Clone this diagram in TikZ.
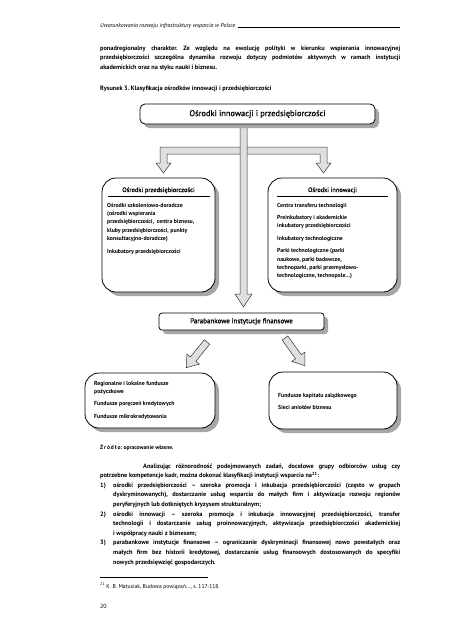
\documentclass[tikz,border=0pt]{standalone}
\usepackage{fontspec}
\setmainfont{PT Sans}
\newfontfamily\semib[FakeBold=0.7]{PT Sans}
\usetikzlibrary{shadows,calc}
\frenchspacing
\newcommand\JL[2][300pt]{\makebox[#1][s]{#2}}
\newcommand\TL[1]{\begin{tabular}[t]{@{}l@{}}#1\end{tabular}}
\begin{document}
\begin{tikzpicture}[x=1pt,y=-1pt,
  body/.style={font=\fontsize{6.3}{9.6}\selectfont\bfseries\frenchspacing, inner sep=0pt, anchor=base west},
  small/.style={font=\fontsize{5.6}{7}\selectfont, inner sep=0pt, anchor=base west},
  boxtxt/.style={font=\fontsize{5.8}{8.4}\selectfont\bfseries, inner sep=0pt, anchor=base west},
  boxtitle/.style={font=\semib\fontsize{6.4}{8}\selectfont, inner sep=0pt, anchor=base},
  shad/.style={drop shadow={shadow xshift=4pt, shadow yshift=-4pt, fill=gray!70, opacity=1}},
  roundbox/.style={draw, line width=0.8pt, fill=white, rounded corners=14pt, shad, minimum width=#1, inner sep=0pt},
  flatbox/.style={draw, line width=0.8pt, fill=white, shad, inner sep=0pt},
  blockarrow/.style={draw=black!80, line width=0.5pt, fill=gray!25, line join=miter}
]
\useasboundingbox[fill=white] (0,0) rectangle (452,640);

% header
\node[small, font=\fontsize{5.8}{7}\selectfont\itshape] (hdr) at (100,27) {Uwarunkowania rozwoju infrastruktury wsparcia w Polsce};
\draw[line width=0.4pt] (hdr.base east) ++(2,0) coordinate (hl) -- (400,27) coordinate (hr);

% opening paragraph
\node[body] (p1) at (100,50) {\TL{\JL{ponadregionalny charakter. Ze względu na ewolucję polityki w kierunku wspierania innowacyjnej}\\
\JL{przedsiębiorczości szczególna dynamika rozwoju dotyczy podmiotów aktywnych w ramach instytucji}\\
akademickich oraz na styku nauki i biznesu.}};

\node[body] (cap) at (100,90) {Rysunek 3. Klasyfikacja ośrodków innowacji i przedsiębiorczości};

% arrows (behind boxes)
\draw[blockarrow] (160,147) -- (327,147) -- (327,163) -- (331,163) -- (323.5,173) -- (316,163) -- (320,163) -- (320,154) -- (167,154) -- (167,163) -- (171,163) -- (163.5,173) -- (156,163) -- (160,163) -- cycle;
\draw[blockarrow] (240,124) -- (247,124) -- (247,294) -- (252,294) -- (243.5,307) -- (235,294) -- (240,294) -- cycle;
\begin{scope}[shift={(207,342)}, rotate=231]
\draw[blockarrow] (0,-3.5) -- (22,-3.5) -- (22,-8) -- (33,0) -- (22,8) -- (22,3.5) -- (0,3.5) -- cycle;
\end{scope}
\begin{scope}[shift={(285,338)}, rotate=-54.5]
\draw[blockarrow] (0,-3.5) -- (23,-3.5) -- (23,-8) -- (34,0) -- (23,8) -- (23,3.5) -- (0,3.5) -- cycle;
\end{scope}

% top box
\node[flatbox, rounded corners=5pt, minimum width=235pt, minimum height=20pt, font=\semib\fontsize{8.4}{10}\selectfont] (top) at (257.5,114) {Ośrodki innowacji i przedsiębiorczości};

% left box
\node[roundbox=113pt, minimum height=114pt] (lb) at (158.5,235) {};
\node[boxtitle] (lbt) at (158.5,192) {Ośrodki przedsiębiorczości};
\draw[line width=0.6pt] (108,196.5) -- (210,196.5);
\node[boxtxt] (lbc) at (107,207) {\TL{Ośrodki szkoleniowo-doradcze\\(ośrodki wspierania\\przedsiębiorczości,\ \ centra biznesu,\\kluby przedsiębiorczości, punkty\\konsultacyjno-doradcze)\\[4pt]Inkubatory przedsiębiorczości}};

% right box
\node[roundbox=129pt, minimum height=114pt] (rb) at (332.5,235) {};
\node[boxtitle] (rbt) at (332.5,192) {Ośrodki innowacji};
\draw[line width=0.6pt] (277,196.5) -- (388,196.5);
\node[boxtxt] (rbc) at (277,207) {\TL{Centra transferu technologii\\[4pt]Preinkubatory i akademickie\\inkubatory przedsiębiorczości\\[4pt]Inkubatory technologiczne\\[4pt]Parki technologiczne (parki\\naukowe, parki badawcze,\\technoparki, parki przemysłowo-\\technologiczne, technopole…)}};

% parabank box
\node[flatbox, rounded corners=3pt, minimum width=165pt, minimum height=17pt, font=\semib\fontsize{7}{8}\selectfont] (pb) at (241.5,321.5) {Parabankowe instytucje finansowe};

% lower boxes
\node[roundbox=130pt, minimum height=55pt] (llb) at (150,400.5) {};
\node[boxtxt] (llc) at (94,385) {\TL{Regionalne i lokalne fundusze\\pożyczkowe\\[4pt]Fundusze poręczeń kredytowych\\[4pt]Fundusze mikrokredytowania}};
\node[roundbox=128pt, minimum height=57pt] (lrb) at (333,400.5) {};
\node[boxtxt] (lrc) at (278,397) {\TL{Fundusze kapitału zalążkowego\\[4pt]Sieci aniołów biznesu}};

% source
\node[small, font=\fontsize{5.6}{7}\selectfont\bfseries] (src) at (100,449) {Ź\,r\,ó\,d\,ł\,o: opracowanie własne.};

% lower text
\node[body] (p2) at (100,468) {\TL{\hspace*{43pt}\JL[257pt]{Analizując różnorodność podejmowanych zadań, docelowe grupy odbiorców usług czy}\\
potrzebne kompetencje kadr, można dokonać klasyfikacji instytucji wsparcia na\textsuperscript{21}:\\
\makebox[13pt][l]{1)}\JL[287pt]{ośrodki przedsiębiorczości – szeroka promocja i inkubacja przedsiębiorczości (często w grupach}\\
\hspace*{13pt}\JL[287pt]{dyskryminowanych), dostarczanie usług wsparcia do małych firm i aktywizacja rozwoju regionów}\\
\hspace*{13pt}peryferyjnych lub dotkniętych kryzysem strukturalnym;\\
\makebox[13pt][l]{2)}\JL[287pt]{ośrodki innowacji – szeroka promocja i inkubacja innowacyjnej przedsiębiorczości, transfer}\\
\hspace*{13pt}\JL[287pt]{technologii i dostarczanie usług proinnowacyjnych, aktywizacja przedsiębiorczości akademickiej}\\
\hspace*{13pt}i współpracy nauki z biznesem;\\
\makebox[13pt][l]{3)}\JL[287pt]{parabankowe instytucje finansowe – ograniczanie dyskryminacji finansowej nowo powstałych oraz}\\
\hspace*{13pt}\JL[287pt]{małych firm bez historii kredytowej, dostarczanie usług finansowych dostosowanych do specyfiki}\\
\hspace*{13pt}nowych przedsięwzięć gospodarczych.}};

% footnote
\coordinate (fl) at (100,577);
\coordinate (fr) at (208,577);
\draw[line width=0.5pt] (fl) -- (fr);
\node[small] (fn) at (100,588) {\textsuperscript{21} K. B. Matusiak, Budowa powiązań…, s. 117-118.};
\node[small, font=\fontsize{6}{7}\selectfont] (pg) at (100,608) {20};
\end{tikzpicture}
\end{document}
